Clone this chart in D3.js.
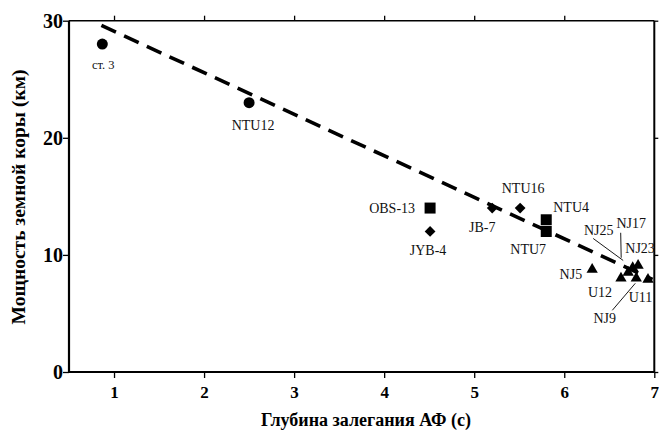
<!DOCTYPE html>
<html><head><meta charset="utf-8">
<script src="https://cdn.jsdelivr.net/npm/d3@7"></script>
<style>
body{margin:0;background:#fff;}
svg{display:block;}
svg text{font-family:"Liberation Serif","Times New Roman",serif !important;}
</style></head>
<body><svg id="c" width="659" height="436"></svg>
<script>
// ---- data ----
const stations = ["ст. 3","NTU12","OBS-13","JYB-4","JB-7","NTU16","NTU4","NTU7","NJ5","U12","NJ25","NJ17","NJ23","NJ9","U11"];
const depthAF  = [0.87, 2.50, 4.51, 4.51, 5.20, 5.51, 5.80, 5.80, 6.31, 6.63, 6.71, 6.76, 6.82, 6.80, 6.93];
const crust    = [28.0, 23.0, 14.0, 12.0, 14.0, 14.0, 13.0, 12.0, 8.75, 8.0, 8.5, 8.9, 9.1, 8.0, 7.9];
const markType = ["circle","circle","square","diamond","diamond","diamond","square","square","triangle","triangle","triangle","triangle","triangle","triangle","triangle"];
const fitX = [0.86, 6.98];
const fitY = [29.6, 7.9];
const xTicks = [1,2,3,4,5,6,7];
const yTicks = [0,10,20,30];
const xTitle = "Глубина залегания АФ (с)";
const yTitle = "Мощность земной коры (км)";

// ---- label layout (pixel offsets from marker) ----
const labelLayout = {
  "ст. 3":  {dx:1,   dy:21, size:12.5},
  "NTU12":  {dx:4,   dy:22},
  "OBS-13": {dx:-15, dy:0, anchor:"end"},
  "JYB-4":  {dx:-2,  dy:19},
  "JB-7":   {dx:-10, dy:19},
  "NTU16":  {dx:3,   dy:-20},
  "NTU4":   {dx:7,   dy:-13, anchor:"start"},
  "NTU7":   {dx:-18, dy:18},
  "NJ5":    {dx:-10, dy:5, anchor:"end"},
  "U12":    {dx:-21, dy:14},
  "NJ25":   {dx:-29.5, dy:-42, leader:[-35,-34,-5,-12]},
  "NJ17":   {dx:-1.5,  dy:-45, leader:[-12,-35,-11.5,-10]},
  "NJ23":   {dx:2,   dy:-17},
  "NJ9":    {dx:-31.5, dy:40, leader:[-24,32,-1,5]},
  "U11":    {dx:-7.5, dy:18}
};

const FONT = "Liberation Serif";
const svg = d3.select("#c");
const x = d3.scaleLinear().domain([0.5, 7]).range([69, 654.3]);
const y = d3.scaleLinear().domain([0, 30]).range([372, 20.7]);

function styleAxis(g){
  g.attr("font-family",FONT);
  g.selectAll(".domain").remove();
  g.selectAll("line").attr("stroke","#000").attr("stroke-width",1.3);
}

// axes
const gx = svg.append("g").attr("transform",`translate(0,${y(0)})`);
gx.call(d3.axisBottom(x).tickValues(d3.range(6,71).map(v=>v/10)).tickSize(3).tickFormat(""));
gx.call(d3.axisBottom(x).tickValues(xTicks).tickSize(6).tickPadding(8).tickFormat(d3.format("d")));
styleAxis(gx);
gx.selectAll("text").attr("font-size",17).attr("font-weight","bold").attr("font-family",FONT).attr("fill","#000");

const gy = svg.append("g").attr("transform",`translate(${x(0.5)},0)`);
gy.call(d3.axisLeft(y).tickValues(d3.range(1,30)).tickSize(3).tickFormat(""));
gy.call(d3.axisLeft(y).tickValues(yTicks).tickSize(6).tickPadding(0).tickFormat(d3.format("d")));
styleAxis(gy);
gy.selectAll("text").attr("font-size",20).attr("font-weight","bold").attr("font-family",FONT).attr("fill","#000");

const gt = svg.append("g").attr("transform",`translate(0,${y(30)})`);
gt.call(d3.axisTop(x).tickValues(xTicks.slice(0,6)).tickSize(5).tickFormat(""));
styleAxis(gt);

const gr = svg.append("g").attr("transform",`translate(${x(7)},0)`);
gr.call(d3.axisRight(y).tickValues(yTicks).tickSize(4).tickFormat(""));
styleAxis(gr);

// frame
svg.append("line").attr("x1",x(0.5)).attr("x2",x(7)).attr("y1",y(0)).attr("y2",y(0)).attr("stroke","#000").attr("stroke-width",2.2);
svg.append("line").attr("x1",x(0.5)).attr("x2",x(0.5)).attr("y1",y(30)).attr("y2",y(0)).attr("stroke","#000").attr("stroke-width",2.2);
svg.append("line").attr("x1",x(0.5)).attr("x2",x(7)).attr("y1",y(30)).attr("y2",y(30)).attr("stroke","#000").attr("stroke-width",1.6);
svg.append("line").attr("x1",x(7)).attr("x2",x(7)).attr("y1",y(30)).attr("y2",y(0)).attr("stroke","#000").attr("stroke-width",2);

// titles
svg.append("text").attr("x",366).attr("y",426).attr("text-anchor","middle").attr("font-family",FONT)
  .attr("font-size",18).attr("font-weight","bold").text(xTitle);
svg.append("text").attr("transform","translate(25,197) rotate(-90)").attr("text-anchor","middle").attr("font-family",FONT)
  .attr("font-size",19.5).attr("font-weight","bold").text(yTitle);

// regression line
svg.append("path").datum(fitX.map((v,i)=>[v,fitY[i]]))
  .attr("d",d3.line().x(d=>x(d[0])).y(d=>y(d[1])))
  .attr("stroke","#000").attr("stroke-width",3.6).attr("fill","none").attr("stroke-dasharray","16,9");

// markers
const sym = {
  circle: d3.symbol().type(d3.symbolCircle).size(95),
  square: d3.symbol().type(d3.symbolSquare).size(121),
  diamond: d3.symbol().type(d3.symbolSquare).size(58),
  triangle: d3.symbol().type(d3.symbolTriangle).size(55)
};
const pts = stations.map((s,i)=>({s, x:depthAF[i], y:crust[i], t:markType[i]}));
svg.append("g").selectAll("path").data(pts).join("path")
  .attr("d",d=>sym[d.t]())
  .attr("transform",d=>`translate(${x(d.x)},${y(d.y)})`+(d.t==="diamond"?" rotate(45)":""))
  .attr("fill","#000");

// labels and leaders
const lg = svg.append("g");
pts.forEach(p=>{
  const L = labelLayout[p.s];
  const px = x(p.x), py = y(p.y);
  if (L.leader) {
    lg.append("line").attr("x1",px+L.leader[0]).attr("y1",py+L.leader[1])
      .attr("x2",px+L.leader[2]).attr("y2",py+L.leader[3]).attr("stroke","#000").attr("stroke-width",0.9);
  }
  lg.append("text").attr("x",px+L.dx).attr("y",py+L.dy).attr("dy","0.35em").attr("font-family",FONT)
    .attr("text-anchor",L.anchor||"middle").attr("font-size",L.size||14).attr("fill","#111").text(p.s);
});
</script></body></html>
